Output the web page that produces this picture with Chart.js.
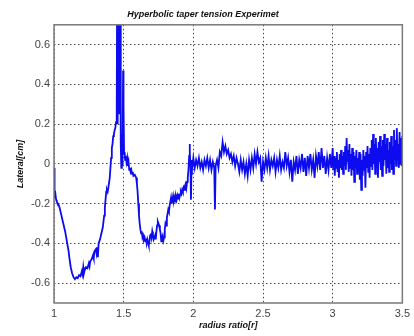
<!DOCTYPE html>
<html><head><meta charset="utf-8">
<script src="https://cdn.jsdelivr.net/npm/chart.js@4/dist/chart.umd.min.js"></script>
<style>html,body{margin:0;padding:0;background:#fff}#wrap{width:414px;height:336px}</style>
</head><body><div id="wrap"><canvas id="c" width="414" height="336"></canvas></div>
<script>
const radiusRatio = [
1.000,1.002,1.006,1.010,1.015,1.020,1.025,1.030,1.040,1.050,1.060,1.070,1.080,1.090,1.100,1.105,1.110,1.120,1.130,1.140,
1.150,1.160,1.170,1.180,1.190,1.200,1.205,1.210,1.215,1.220,1.230,1.240,1.250,1.255,1.260,1.270,1.280,1.285,1.290,1.300,
1.305,1.310,1.315,1.320,1.330,1.340,1.350,1.360,1.365,1.370,1.375,1.380,1.385,1.390,1.400,1.405,1.410,1.415,1.420,1.425,
1.430,1.435,1.440,1.445,1.450,1.453,1.457,1.461,1.466,1.470,1.476,1.479,1.483,1.487,1.491,1.496,1.499,1.503,1.507,1.510,
1.515,1.520,1.525,1.530,1.535,1.540,1.545,1.550,1.555,1.560,1.565,1.570,1.580,1.590,1.595,1.600,1.605,1.610,1.615,1.620,
1.625,1.630,1.635,1.640,1.645,1.650,1.655,1.660,1.665,1.670,1.675,1.680,1.685,1.690,1.695,1.700,1.705,1.710,1.715,1.720,
1.725,1.730,1.735,1.740,1.745,1.750,1.755,1.760,1.765,1.770,1.775,1.780,1.785,1.790,1.795,1.800,1.805,1.810,1.815,1.820,
1.825,1.830,1.835,1.840,1.845,1.850,1.855,1.860,1.865,1.870,1.875,1.880,1.885,1.890,1.895,1.900,1.905,1.910,1.915,1.920,
1.925,1.930,1.935,1.940,1.945,1.950,1.955,1.960,1.965,1.970,1.973,1.976,1.980,1.983,1.986,1.990,1.995,
2.00,2.01,2.02,2.03,2.04,2.05,2.06,2.07,2.08,2.09,2.10,2.11,2.12,2.13,2.14,2.15,2.155,2.16,2.17,2.18,2.19,
2.20,2.21,2.22,2.23,2.24,2.25,2.26,2.27,2.28,2.29,2.30,2.31,2.32,2.33,2.34,2.35,2.36,2.37,2.38,2.39,
2.40,2.41,2.42,2.43,2.44,2.45,2.46,2.47,2.48,2.49,2.50,2.51,2.52,2.53,2.54,2.55,2.56,2.57,2.58,2.59,
2.60,2.61,2.62,2.63,2.64,2.65,2.66,2.67,2.68,2.69,2.70,2.71,2.72,2.73,2.74,2.75,2.76,2.77,2.78,2.79,
2.80,2.81,2.82,2.83,2.84,2.85,2.86,2.87,2.88,2.89,2.90,2.91,2.92,2.93,2.94,2.95,2.96,2.97,2.98,2.99,
3.000,3.005,3.010,3.015,3.020,3.025,3.030,3.035,3.040,3.045,3.050,3.055,3.060,3.065,3.070,3.075,3.080,3.085,3.090,3.095,
3.100,3.105,3.110,3.115,3.120,3.125,3.130,3.135,3.140,3.145,3.150,3.155,3.160,3.165,3.170,3.175,3.180,3.185,3.190,3.195,
3.200,3.205,3.210,3.215,3.220,3.225,3.230,3.235,3.240,3.245,3.250,3.255,3.260,3.265,3.270,3.275,3.280,3.285,3.290,3.295,
3.300,3.305,3.310,3.315,3.320,3.325,3.330,3.335,3.340,3.345,3.350,3.355,3.360,3.365,3.370,3.375,3.380,3.385,3.390,3.395,
3.400,3.405,3.410,3.415,3.420,3.425,3.430,3.435,3.440,3.445,3.450,3.455,3.460,3.465,3.470,3.475,3.480,3.485,3.490,3.495,3.500
];
const lateral = [
-0.02,-0.14,-0.16,-0.15,-0.18,-0.19,-0.20,-0.20,-0.22,-0.25,-0.28,-0.31,-0.34,-0.38,-0.42,-0.44,-0.47,-0.52,-0.55,-0.57,
-0.58,-0.57,-0.575,-0.56,-0.565,-0.54,-0.555,-0.52,-0.55,-0.535,-0.52,-0.525,-0.50,-0.515,-0.49,-0.48,-0.46,-0.475,-0.44,-0.43,
-0.45,-0.42,-0.47,-0.40,-0.38,-0.35,-0.32,-0.26,-0.22,-0.18,-0.14,-0.13,-0.14,-0.12,-0.07,-0.02,0.03,0.08,0.10,0.14,
0.15,0.17,0.18,0.21,0.23,0.90,0.20,0.90,0.25,0.90,0.90,0.10,-0.02,0.15,-0.01,0.47,0.30,0.05,0.06,0.02,
0.04,0.01,0.03,-0.01,0.01,-0.03,-0.02,-0.04,-0.03,-0.05,-0.04,-0.06,-0.055,-0.07,-0.10,-0.14,-0.20,-0.26,-0.30,-0.33,
-0.35,-0.34,-0.37,-0.36,-0.38,-0.37,-0.39,-0.375,-0.40,-0.38,-0.395,-0.41,-0.39,-0.36,-0.35,-0.37,-0.34,-0.36,-0.38,-0.37,
-0.36,-0.38,-0.34,-0.31,-0.29,-0.30,-0.31,-0.33,-0.35,-0.39,-0.37,-0.36,-0.385,-0.37,-0.33,-0.30,-0.31,-0.27,-0.25,-0.23,
-0.24,-0.21,-0.19,-0.17,-0.20,-0.18,-0.16,-0.185,-0.17,-0.19,-0.165,-0.18,-0.16,-0.175,-0.15,-0.17,-0.155,-0.14,-0.15,-0.13,
-0.14,-0.12,-0.13,-0.11,-0.10,-0.12,-0.09,-0.07,-0.03,0.04,0.10,0.06,-0.02,-0.18,-0.05,0.02,0.00,
0.03,-0.02,0.02,-0.01,0.03,-0.02,0.01,-0.03,0.02,-0.01,0.03,-0.02,0.02,-0.03,0.01,-0.02,-0.23,-0.01,0.02,-0.02,0.06,
0.04,0.11,0.06,0.09,0.05,0.07,0.03,0.05,0.01,0.04,-0.01,0.03,0.00,-0.04,0.02,-0.03,0.01,-0.05,0.00,-0.06,
0.02,-0.03,0.03,-0.02,0.05,0.00,0.06,0.01,0.03,-0.09,0.01,-0.03,0.03,-0.02,0.04,-0.03,0.02,-0.01,0.03,-0.04,
0.02,-0.02,0.04,-0.03,0.01,-0.02,0.06,-0.01,0.03,-0.04,0.02,-0.09,0.01,-0.03,0.04,-0.05,0.02,-0.02,0.05,-0.04,
0.03,-0.06,0.04,-0.02,0.05,-0.03,0.02,-0.07,0.04,-0.01,0.06,-0.03,0.08,-0.02,0.04,-0.05,0.03,-0.03,0.05,-0.02,
0.08,-0.03,0.04,-0.06,0.03,-0.02,0.06,-0.04,0.02,-0.07,0.05,-0.02,0.07,-0.03,0.04,-0.05,0.06,-0.01,0.09,-0.03,
0.13,0.01,0.07,-0.04,0.10,-0.02,0.05,-0.06,0.08,-0.03,0.06,-0.09,0.04,-0.02,0.07,-0.05,0.03,-0.04,0.06,-0.08,
0.05,-0.13,0.02,-0.06,0.07,-0.03,0.04,-0.12,0.06,-0.02,0.09,-0.04,0.05,-0.07,0.08,-0.01,0.12,-0.03,0.15,0.00,
0.10,-0.05,0.13,-0.02,0.08,-0.07,0.11,0.01,0.14,-0.03,0.09,-0.06,0.12,-0.01,0.15,0.02,0.10,-0.05,0.13,-0.02,
0.07,-0.04,0.11,0.00,0.14,-0.03,0.09,-0.05,0.17,0.02,0.12,-0.01,0.18,0.03,0.10,-0.02,0.16,0.00,0.13,-0.01,0.14
];
const xTickValues = [1, 1.5, 2, 2.5, 3, 3.5];
const yTickValues = [-0.6, -0.4, -0.2, 0, 0.2, 0.4, 0.6];
const chartTitle = 'Hyperbolic taper tension Experimet';
const xTitle = 'radius ratio[r]';
const yTitle = 'Lateral[cm]';

const points = radiusRatio.map((x, i) => ({x: x, y: lateral[i]}));
const FONT = '"Liberation Sans", Arial, sans-serif';

const framePlugin = {
  id: 'frame',
  afterDraw(chart) {
    const a = chart.chartArea, ctx = chart.ctx;
    ctx.save();
    ctx.strokeStyle = '#7a7a7a';
    ctx.lineWidth = 1.5;
    ctx.strokeRect(a.left, a.top, a.right - a.left, a.bottom - a.top);
    ctx.restore();
  }
};

new Chart(document.getElementById('c'), {
  type: 'scatter',
  data: { datasets: [{
    data: points, showLine: true, borderColor: '#0c0cee', borderWidth: 1.8,
    pointRadius: 0, tension: 0, fill: false
  }]},
  plugins: [framePlugin],
  options: {
    responsive: false, animation: false, devicePixelRatio: 1,
    layout: { padding: { left: 0, right: 8, top: 0, bottom: 0 } },
    plugins: {
      legend: { display: false }, tooltip: { enabled: false },
      title: { display: true, text: chartTitle, color: '#111',
        font: { family: FONT, size: 9, weight: 'bold', style: 'italic' },
        padding: { top: 9, bottom: 5 } }
    },
    scales: {
      x: {
        type: 'linear', min: 1, max: 3.5,
        afterBuildTicks: s => { s.ticks = xTickValues.map(v => ({ value: v })); },
        afterFit: s => { s.height = 33; },
        grid: { color: '#4a4a4a', lineWidth: 1, drawTicks: false },
        border: { display: false, dash: [1.5, 2.5] },
        ticks: { color: '#444', padding: 4, maxRotation: 0, autoSkip: false,
          font: { family: FONT, size: 11 }, callback: v => String(v) },
        title: { display: true, text: xTitle, color: '#111',
          font: { family: FONT, size: 9, weight: 'bold', style: 'italic' },
          padding: { top: 0, bottom: 5 } }
      },
      y: {
        type: 'linear', min: -0.7, max: 0.7,
        afterBuildTicks: s => { s.ticks = yTickValues.map(v => ({ value: v })); },
        afterFit: s => { s.width = 54; },
        grid: { color: '#4a4a4a', lineWidth: 1, drawTicks: false },
        border: { display: false, dash: [1.5, 2.5] },
        ticks: { color: '#444', padding: 4, autoSkip: false,
          font: { family: FONT, size: 11 }, callback: v => String(Math.round(v * 10) / 10) },
        title: { display: true, text: yTitle, color: '#111',
          font: { family: FONT, size: 9, weight: 'bold', style: 'italic' },
          padding: { top: 15, bottom: 0 } }
      }
    }
  }
});
</script>
</body></html>
